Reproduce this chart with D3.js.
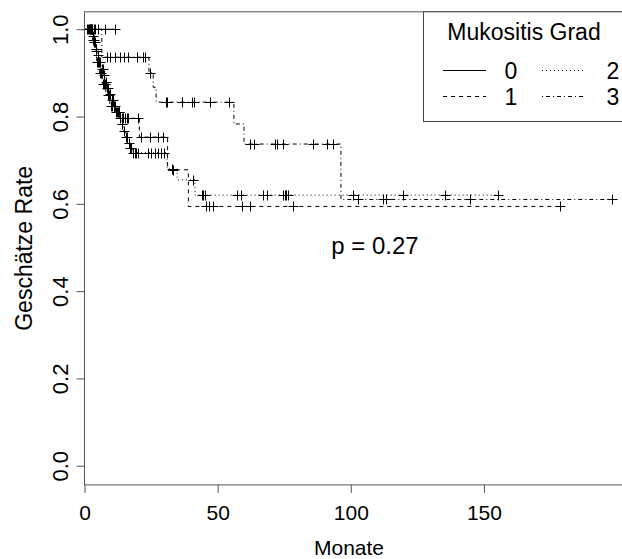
<!DOCTYPE html>
<html lang="de">
<head>
    <meta charset="UTF-8">
    <title>Mukositis Grad</title>
    <script src="https://d3js.org/d3.v7.min.js"></script>
    <style>
      body { margin: 0; background: #fff; }
      svg { display: block; font-family: 'Liberation Sans', Arial, sans-serif; }
    </style>
</head>
<body>
    <svg width="622" height="559"></svg>
</body>
<script>
    // Kaplan-Meier curves
    const grades = ['0', '1', '2', '3'];

    const grade0Events = [];
    const grade0Surv = [];
    const grade0Censor = [1.0, 1.5, 1.8, 2.2, 2.6, 3.0, 3.4, 4.0, 5.2, 7.7, 11.4];

    const grade1Events = [3.0, 3.8, 4.6, 5.6, 6.8, 8.0, 9.5, 11.5, 13.5, 20.6, 31.2, 39.0];
    const grade1Surv = [0.975, 0.95, 0.925, 0.9, 0.875, 0.85, 0.825, 0.81, 0.796, 0.753, 0.678, 0.594];
    const grade1Censor = [2.2, 2.9, 3.3, 3.6, 4.2, 4.6, 5.0, 5.4, 6.0, 6.2, 7.0, 7.3, 7.8, 8.8, 9.2,
      10.0, 10.4, 11.0, 11.8, 12.3, 13.0, 14.0, 14.6, 15.2, 15.8, 16.5, 20.1, 21.2, 24.6, 27.7, 29.4,
      33.2, 45.6, 46.9, 48.4, 59.0, 62.1, 78.4, 178.6];

    const grade2Events = [2.8, 3.5, 4.0, 4.8, 5.5, 6.2, 7.0, 7.6, 8.3, 9.2, 10.0, 11.0, 12.0, 13.0,
      13.8, 14.6, 15.4, 16.2, 17.0, 18.0, 31.0, 34.8, 41.5];
    const grade2Surv = [0.985, 0.97, 0.955, 0.94, 0.925, 0.91, 0.895, 0.88, 0.866, 0.852, 0.838, 0.824,
      0.81, 0.796, 0.782, 0.768, 0.754, 0.74, 0.728, 0.717, 0.68, 0.655, 0.62];
    const grade2Censor = [2.0, 2.4, 3.2, 3.6, 3.9, 4.2, 4.4, 5.2, 5.6, 5.9, 6.6, 6.9, 7.3, 8.0, 8.5,
      9.0, 9.6, 10.2, 10.6, 11.2, 11.5, 12.5, 12.8, 13.4, 14.0, 14.2, 15.0, 15.6, 16.0, 16.6, 17.2,
      17.6, 18.3, 18.8, 19.3, 20.0, 23.8, 25.0, 26.3, 27.5, 28.7, 30.0, 32.9, 40.6, 44.0, 44.6, 45.3,
      57.2, 58.8, 67.1, 68.4, 74.6, 75.2, 75.8, 76.4, 100.9, 119.7, 135.4, 155.4];

    const grade3Events = [6.5, 24.2, 25.8, 26.9, 56.1, 59.9, 96.3];
    const grade3Surv = [0.936, 0.90, 0.867, 0.833, 0.783, 0.737, 0.61];
    const grade3Censor = [8.5, 9.5, 11.5, 13.5, 15.0, 16.5, 19.6, 22.1, 22.7, 24.6, 30.6, 31.1, 36.5,
      40.2, 41.1, 47.1, 54.4, 62.2, 63.6, 71.5, 72.2, 74.7, 85.9, 90.9, 93.4, 102.8, 112.2, 113.2,
      144.8, 198.0];

    const xTicks = [0, 50, 100, 150];
    const yTicks = [0, 0.2, 0.4, 0.6, 0.8, 1.0];
    const pText = 'p = 0.27';

    const dashes = [null, '4,4', '1,3', '1,3,4,3'];

    const curves = [
      { events: grade0Events, surv: grade0Surv, censor: grade0Censor },
      { events: grade1Events, surv: grade1Surv, censor: grade1Censor },
      { events: grade2Events, surv: grade2Surv, censor: grade2Censor },
      { events: grade3Events, surv: grade3Surv, censor: grade3Censor }
    ];

    const svg = d3.select('svg');

    const xScale = d3.scaleLinear()
      .domain([0, 205])
      .range([84.5, 630.4]);

    const yScale = d3.scaleLinear()
      .domain([-0.044, 1.04])
      .range([484.9, 11.8]);

    const plotLeft = xScale(0), plotRight = xScale(205);
    const plotTop = yScale(1.04), plotBottom = yScale(-0.044);

    // survival at time t for one curve
    const survAt = (c, t) => {
      let s = 1;
      c.events.forEach((e, i) => { if (e <= t) s = c.surv[i]; });
      return s;
    };

    const stepPath = (c) => {
      const end = Math.max(d3.max(c.events) || 0, d3.max(c.censor) || 0);
      let p = `M${xScale(0)},${yScale(1)}`;
      c.events.forEach((e, i) => {
        p += `H${xScale(e)}V${yScale(c.surv[i])}`;
      });
      p += `H${xScale(end)}`;
      return p;
    };

    const plot = svg.append('g');

    plot.selectAll('path.curve')
      .data(curves)
      .enter()
      .append('path')
      .attr('class', 'curve')
      .attr('d', stepPath)
      .attr('fill', 'none')
      .attr('stroke', '#000')
      .attr('stroke-width', 1)
      .attr('stroke-dasharray', (c, i) => dashes[i]);

    const marks = [];
    curves.forEach((c) => c.censor.forEach((t) => marks.push({ t: t, s: survAt(c, t) })));

    plot.selectAll('path.censor')
      .data(marks)
      .enter()
      .append('path')
      .attr('class', 'censor')
      .attr('d', (m) => {
        const x = Math.round(xScale(m.t)) + 0.5, y = Math.round(yScale(m.s)) + 0.5;
        return `M${x - 5},${y}H${x + 5}M${x},${y - 5}V${y + 5}`;
      })
      .attr('stroke', '#000')
      .attr('stroke-width', 1);

    // axes
    const xAxis = svg.append('g')
      .attr('transform', `translate(0, ${plotBottom})`)
      .call(d3.axisBottom(xScale).tickValues(xTicks).tickSize(8).tickFormat(d3.format('d')));

    const yAxis = svg.append('g')
      .attr('transform', `translate(${plotLeft}, 0)`)
      .call(d3.axisLeft(yScale).tickValues(yTicks).tickSize(8).tickFormat(d3.format('.1f')));

    [xAxis, yAxis].forEach((a) => {
      a.select('.domain').remove();
      a.selectAll('line').attr('stroke', '#555');
      a.selectAll('text')
        .attr('fill', '#000')
        .style('font-size', '21px')
        .style('font-family', "'Liberation Sans', Arial, sans-serif");
    });

    xAxis.selectAll('text').attr('y', 35).attr('dy', null);

    yAxis.selectAll('text')
      .attr('x', 0)
      .attr('dy', null)
      .style('font-size', '22px')
      .attr('text-anchor', 'middle')
      .attr('transform', 'translate(-17, 0) rotate(-90)');

    svg.append('rect')
      .attr('x', plotLeft)
      .attr('y', plotTop)
      .attr('width', plotRight - plotLeft)
      .attr('height', plotBottom - plotTop)
      .attr('fill', 'none')
      .attr('stroke', '#555');

    svg.append('text')
      .attr('x', 349)
      .attr('y', 555)
      .attr('text-anchor', 'middle')
      .style('font-size', '21px')
      .text('Monate');

    svg.append('text')
      .attr('transform', `translate(32, ${(plotTop + plotBottom) / 2}) rotate(-90)`)
      .attr('text-anchor', 'middle')
      .style('font-size', '23px')
      .text('Geschätze Rate');

    svg.append('text')
      .attr('x', 375)
      .attr('y', 254)
      .attr('text-anchor', 'middle')
      .style('font-size', '24px')
      .text(pText);

    // legend
    const legend = svg.append('g');
    const legLeft = 423.5, legBottom = 121.5;

    legend.append('rect')
      .attr('x', legLeft)
      .attr('y', plotTop)
      .attr('width', plotRight - legLeft)
      .attr('height', legBottom - plotTop)
      .attr('fill', '#fff')
      .attr('stroke', '#444');

    legend.append('text')
      .attr('x', 524)
      .attr('y', 39.5)
      .attr('text-anchor', 'middle')
      .style('font-size', '23px')
      .text('Mukositis Grad');

    const items = legend.selectAll('g.item')
      .data(grades)
      .enter()
      .append('g')
      .attr('class', 'item')
      .attr('transform', (g, i) => `translate(${i < 2 ? 443 : 542}, ${i % 2 === 0 ? 70.5 : 96.5})`);

    items.append('line')
      .attr('x1', 0)
      .attr('x2', 43)
      .attr('stroke', '#000')
      .attr('stroke-dasharray', (g, i) => dashes[i]);

    items.append('text')
      .attr('x', (g, i) => i < 2 ? 68 : 71)
      .attr('y', 8)
      .attr('text-anchor', 'middle')
      .style('font-size', '23px')
      .text((g) => g);
</script>
</html>
